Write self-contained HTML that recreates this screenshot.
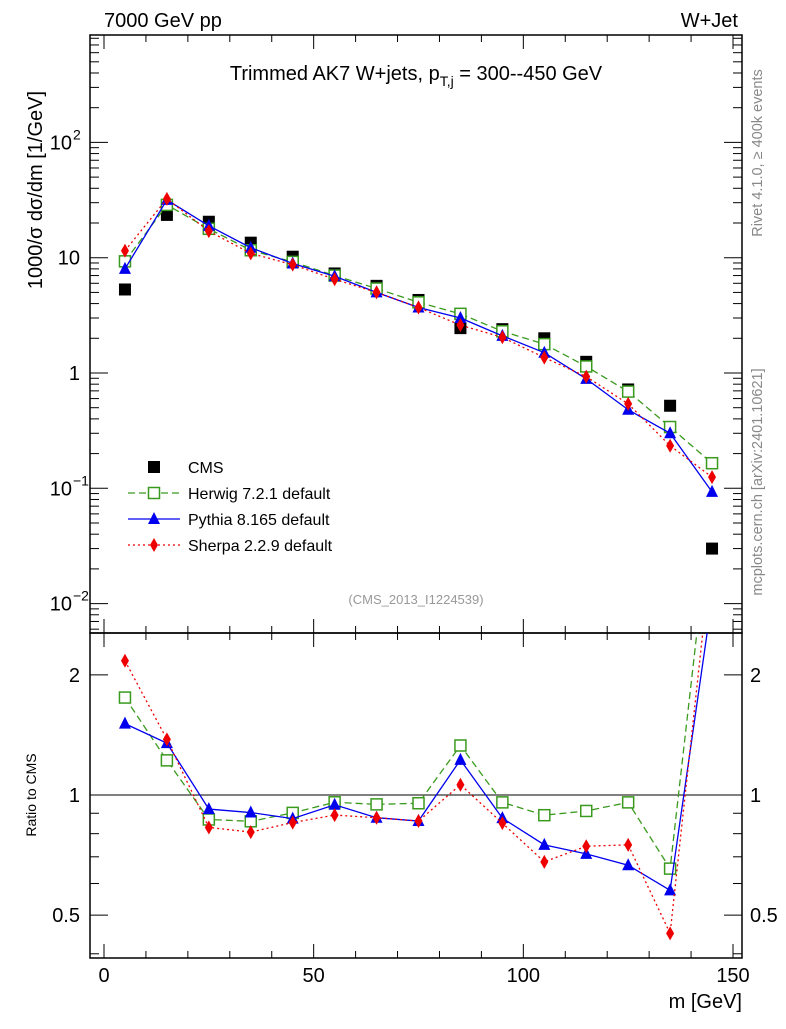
<!DOCTYPE html>
<html><head><meta charset="utf-8"><style>
body{margin:0;background:#fff;font-family:"Liberation Sans",sans-serif}
svg text{font-family:"Liberation Sans","DejaVu Sans",sans-serif}
</style></head><body>
<svg id="c" width="786" height="1024" xmlns="http://www.w3.org/2000/svg">
<text x="104" y="27" font-size="20">7000 GeV pp</text>
<text x="738" y="27" font-size="20" text-anchor="end">W+Jet</text>
<text x="416" y="80" font-size="20" text-anchor="middle">Trimmed AK7 W+jets, p<tspan font-size="14" dy="6">T,j</tspan><tspan dy="-6"> = 300--450 GeV</tspan></text>
<text x="416" y="604" font-size="13" fill="#999" text-anchor="middle">(CMS_2013_I1224539)</text>
<text transform="translate(762,153) rotate(-90)" font-size="14.5" fill="#888" text-anchor="middle">Rivet 4.1.0, ≥ 400k events</text>
<text transform="translate(762,482) rotate(-90)" font-size="14.5" fill="#888" text-anchor="middle">mcplots.cern.ch [arXiv:2401.10621]</text>
<text transform="translate(42,190) rotate(-90)" font-size="20" text-anchor="middle">1000/σ  dσ/dm [1/GeV]</text>
<text transform="translate(36,795) rotate(-90)" font-size="14" text-anchor="middle">Ratio to CMS</text>
<text x="742" y="1008" font-size="20" text-anchor="end">m [GeV]</text>
<g id="g"></g>
</svg>
<script>
const bins=[5,15,25,35,45,55,65,75,85,95,105,115,125,135,145];
const cms=[5.3,23.5,20.5,13.5,10.2,7.3,5.7,4.3,2.45,2.4,2.0,1.25,0.72,0.52,0.03];
const herwig=[9.3,28.7,17.8,11.6,9.2,7.0,5.4,4.1,3.26,2.3,1.78,1.14,0.69,0.34,0.165];
const pythia=[8.0,31.7,18.9,12.2,8.9,6.9,5.0,3.7,3.0,2.1,1.5,0.89,0.48,0.30,0.093];
const sherpa=[11.5,32.4,17.0,10.9,8.7,6.5,5.0,3.7,2.6,2.04,1.36,0.93,0.54,0.234,0.125];
const xTicks=[0,50,100,150];
const ns="http://www.w3.org/2000/svg",G=document.getElementById('g');
const L=90,R=742,T=35,M=633,B=958;
const X=v=>104+v*(733-104)/150;
const Y=v=>373-115.3*Math.log10(v);
const RY=v=>795-399*Math.log10(v);
function el(t,a,n,p){const e=document.createElementNS(ns,t);for(const k in a)e.setAttribute(k,a[k]);(p||G).appendChild(e);return e;}
const defs=el('defs',{},'defs');
const c1=el('clipPath',{id:'cm'},'clip-main',defs);el('rect',{x:L,y:T,width:R-L,height:M-T},'clip-rect',c1);
const c2=el('clipPath',{id:'cr'},'clip-ratio',defs);el('rect',{x:L,y:M,width:R-L,height:B-M},'clip-rect',c2);
el('rect',{x:L,y:T,width:R-L,height:M-T,fill:'none',stroke:'#000','stroke-width':1.5},'main-frame');
el('rect',{x:L,y:M,width:R-L,height:B-M,fill:'none',stroke:'#000','stroke-width':1.5},'ratio-frame');
for(let v=0;v<=150;v+=10){const big=v%50==0,h=big?14:7;const x=X(v);
 el('line',{x1:x,x2:x,y1:B,y2:B-h,stroke:'#000'},'x-tick');el('line',{x1:x,x2:x,y1:M,y2:M-h,stroke:'#000'},'x-tick');
 el('line',{x1:x,x2:x,y1:M,y2:M+h,stroke:'#000'},'x-tick');el('line',{x1:x,x2:x,y1:T,y2:T+h,stroke:'#000'},'x-tick');}
xTicks.forEach(v=>{const t=el('text',{x:X(v),y:982,'font-size':20,'text-anchor':'middle'},'x-tick-label');t.textContent=v;});
for(let d=-3;d<=2;d++)for(let k=1;k<10;k++){const v=k*Math.pow(10,d);const y=Y(v);if(y<T||y>M)continue;const h=k==1?18:9;
 el('line',{x1:L,x2:L+h,y1:y,y2:y,stroke:'#000'},'y-tick');el('line',{x1:R,x2:R-h,y1:y,y2:y,stroke:'#000'},'y-tick');}
[[0.01,'10','−2'],[0.1,'10','−1'],[1,'1'],[10,'10'],[100,'10','2']].forEach(([v,b,e])=>{
 const t=el('text',{x:e?72:80,y:Y(v)+7,'font-size':20,'text-anchor':'end'},'y-tick-label');t.textContent=b;
 if(e){const s=el('text',{x:73,y:Y(v)-3,'font-size':14},'y-tick-exponent');s.textContent=e;}});
[0.4,0.5,0.6,0.7,0.8,0.9,1,2].forEach(v=>{const y=RY(v);const h=(v==0.5||v==1||v==2)?18:9;
 el('line',{x1:L,x2:L+h,y1:y,y2:y,stroke:'#000'},'ratio-tick');el('line',{x1:R,x2:R-h,y1:y,y2:y,stroke:'#000'},'ratio-tick');});
[[0.5,'0.5'],[1,'1'],[2,'2']].forEach(([v,s])=>{let t=el('text',{x:80,y:RY(v)+7,'font-size':20,'text-anchor':'end'},'ratio-tick-label');t.textContent=s;
 t=el('text',{x:750,y:RY(v)+7,'font-size':20},'ratio-tick-label-right');t.textContent=s;});
el('line',{x1:L,x2:R,y1:RY(1),y2:RY(1),stroke:'#000'},'ratio-unity-line');
const gm=el('g',{'clip-path':'url(#cm)'},'main-plot-area'),gr=el('g',{'clip-path':'url(#cr)'},'ratio-plot-area');
cms.forEach((v,i)=>el('rect',{x:X(bins[i])-6,y:Y(v)-6,width:12,height:12,fill:'#000'},'cms-point',gm));
function marker(type,x,y,col,p,n){
 if(type=='sq')el('rect',{x:x-5.5,y:y-5.5,width:11,height:11,fill:'#fff',stroke:col,'stroke-width':1.5},n,p);
 else if(type=='tri')el('polygon',{points:`${x},${y-7} ${x-6},${y+5} ${x+6},${y+5}`,fill:col},n,p);
 else el('polygon',{points:`${x},${y-7} ${x-4},${y} ${x},${y+7} ${x+4},${y}`,fill:col},n,p);}
const series=[[herwig,'#3a9a1e','7,4','sq','herwig'],[pythia,'#0000ee','','tri','pythia'],[sherpa,'#ee0000','2,3','dia','sherpa']];
series.forEach(([d,col,dash,m,n])=>{
 el('polyline',{points:d.map((v,i)=>X(bins[i])+','+Y(v)).join(' '),fill:'none',stroke:col,'stroke-width':1.3,'stroke-dasharray':dash},n+'-line',gm);
 d.forEach((v,i)=>marker(m,X(bins[i]),Y(v),col,gm,n+'-point'));
 const r=d.map((v,i)=>v/cms[i]);
 el('polyline',{points:r.map((v,i)=>X(bins[i])+','+RY(v)).join(' '),fill:'none',stroke:col,'stroke-width':1.3,'stroke-dasharray':dash},n+'-ratio-line',gr);
 r.forEach((v,i)=>marker(m,X(bins[i]),RY(v),col,gr,n+'-ratio-point'));
});
const lg=[['CMS',null],['Herwig 7.2.1 default',series[0]],['Pythia 8.165 default',series[1]],['Sherpa 2.2.9 default',series[2]]];
lg.forEach(([s,sr],i)=>{const y=467+i*26;
 if(!sr)el('rect',{x:148,y:y-6,width:12,height:12,fill:'#000'},'legend-cms-marker');
 else{el('line',{x1:128,x2:180,y1:y,y2:y,stroke:sr[1],'stroke-width':1.3,'stroke-dasharray':sr[2]},'legend-line');marker(sr[3],154,y,sr[1],G,'legend-marker');}
 const t=el('text',{x:188,y:y+6,'font-size':16},'legend-entry');t.textContent=s;});
</script>
</body></html>
